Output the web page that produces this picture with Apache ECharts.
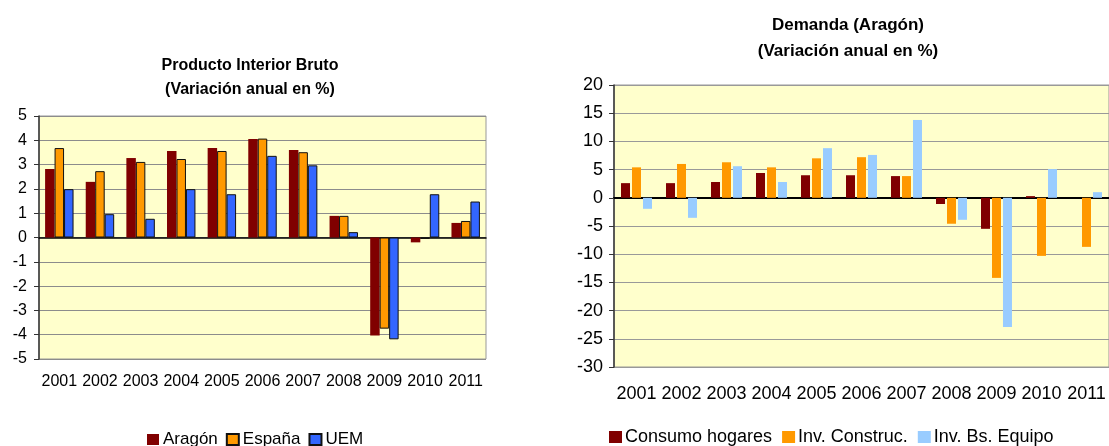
<!DOCTYPE html>
<html>
<head>
<meta charset="utf-8">
<script src="https://cdn.jsdelivr.net/npm/echarts@6/dist/echarts.min.js"></script>
<style>
html,body{margin:0;padding:0;background:#fff;}
#main{width:1109px;height:446px;}
</style>
</head>
<body>
<div id="main"></div>
<script>
var years = ['2001','2002','2003','2004','2005','2006','2007','2008','2009','2010','2011'];

// PIB (variacion anual en %)
var pibAragon = [2.82, 2.29, 3.27, 3.56, 3.68, 4.05, 3.60, 0.89, -4.03, -0.20, 0.60];
var pibEspana = [3.68, 2.73, 3.11, 3.23, 3.56, 4.07, 3.51, 0.89, -3.75, -0.06, 0.68];
var pibUem    = [1.99, 0.96, 0.77, 1.99, 1.78, 3.36, 2.97, 0.22, -4.19, 1.78, 1.48];

// Demanda Aragon
var consumo   = [2.6, 2.6, 2.8, 4.4, 4.0, 4.0, 3.85, -1.1, -5.5, 0.3, null];
var construc  = [5.4, 6.0, 6.3, 5.4, 7.0, 7.2, 3.85, -4.6, -14.2, -10.3, -8.7];
var equipo    = [-1.95, -3.55, 5.6, 2.8, 8.8, 7.6, 13.8, -3.9, -22.9, 5.1, 1.0];

var fontFam = '"Liberation Sans", Arial, sans-serif';

var chart = echarts.init(document.getElementById('main'));

function barSeries(name, data, color, idx, border, extra){
	var s = {
		name: name,
		type: 'bar',
		xAxisIndex: idx * 2,
		yAxisIndex: idx,
		data: data,
		itemStyle: {
			color: color,
			borderColor: border ? '#111' : color,
			borderWidth: border ? 1 : 0
		}
	};
	for (var k in extra) s[k] = extra[k];
	return s;
}

var option = {
	animation: false,
	textStyle: { fontFamily: fontFam },
	title: [
		{
			text: 'Producto Interior Bruto\n(Variación anual en %)',
			left: 245, top: 49, textAlign: 'center',
			textStyle: { fontSize: 16, fontWeight: 'bold', color: '#000', lineHeight: 24, fontFamily: fontFam }
		},
		{
			text: 'Demanda (Aragón)\n(Variación anual en %)',
			left: 843, top: 7, textAlign: 'center',
			textStyle: { fontSize: 17, fontWeight: 'bold', color: '#000', lineHeight: 26, fontFamily: fontFam }
		}
	],
	legend: [
		{
			data: ['Aragón', 'España', 'UEM'],
			left: 142, top: 426,
			icon: 'rect',
			itemWidth: 12, itemHeight: 11, itemGap: 8,
			textStyle: { fontSize: 17, color: '#000', fontFamily: fontFam, padding: [0, 0, 0, -1] }
		},
		{
			data: ['Consumo hogares', 'Inv. Construc.', 'Inv. Bs. Equipo'],
			left: 604, top: 423,
			icon: 'rect',
			itemWidth: 13, itemHeight: 12, itemGap: 10,
			textStyle: { fontSize: 18, color: '#000', fontFamily: fontFam, padding: [0, 0, 0, -2] }
		}
	],
	grid: [
		{ left: 39, right: 623, top: 116, bottom: 87, show: true, backgroundColor: '#FFFFCC', borderColor: '#999', borderWidth: 1 },
		{ left: 614, right: -5, top: 85, bottom: 79, show: true, backgroundColor: '#FFFFCC', borderColor: '#999', borderWidth: 1 }
	],
	xAxis: [
		{
			type: 'category', gridIndex: 0, data: years,
			axisLine: { show: false, onZero: false }, axisTick: { show: false },
			axisLabel: { fontSize: 16, color: '#000', margin: 15, interval: 0 }
		},
		{
			type: 'category', gridIndex: 0, data: years, position: 'bottom',
			axisLine: { show: true, onZero: true, lineStyle: { color: '#000', width: 1.5 } },
			axisTick: { show: false }, axisLabel: { show: false }
		},
		{
			type: 'category', gridIndex: 1, data: years,
			axisLine: { show: false, onZero: false }, axisTick: { show: false },
			axisLabel: { fontSize: 18, color: '#000', margin: 18, interval: 0 }
		},
		{
			type: 'category', gridIndex: 1, data: years, position: 'bottom',
			axisLine: { show: true, onZero: true, lineStyle: { color: '#000', width: 2 } },
			axisTick: { show: false }, axisLabel: { show: false }
		}
	],
	yAxis: [
		{
			type: 'value', gridIndex: 0, min: -5, max: 5, interval: 1,
			axisLine: { show: true, lineStyle: { color: '#333', width: 1.5 } },
			axisTick: { show: true, length: 5, lineStyle: { color: '#333' } },
			axisLabel: { fontSize: 16, color: '#000', margin: 12 },
			splitLine: { lineStyle: { color: '#8c8c8c', width: 1 } }
		},
		{
			type: 'value', gridIndex: 1, min: -30, max: 20, interval: 5,
			axisLine: { show: true, lineStyle: { color: '#333', width: 1.5 } },
			axisTick: { show: true, length: 5, lineStyle: { color: '#333' } },
			axisLabel: { fontSize: 18, color: '#000', margin: 11 },
			splitLine: { lineStyle: { color: '#999', width: 1 } }
		}
	],
	series: [
		barSeries('Aragón', pibAragon, '#800000', 0, false, { barGap: '0%', barCategoryGap: '30%' }),
		barSeries('España', pibEspana, '#FF9900', 0, true, {}),
		barSeries('UEM', pibUem, '#3366FF', 0, true, {}),
		barSeries('Consumo hogares', consumo, '#800000', 1, false, { barWidth: 9, barGap: '22%' }),
		barSeries('Inv. Construc.', construc, '#FF9900', 1, false, { barWidth: 9 }),
		barSeries('Inv. Bs. Equipo', equipo, '#99CCFF', 1, false, { barWidth: 9 })
	]
};

chart.setOption(option);
</script>
</body>
</html>
